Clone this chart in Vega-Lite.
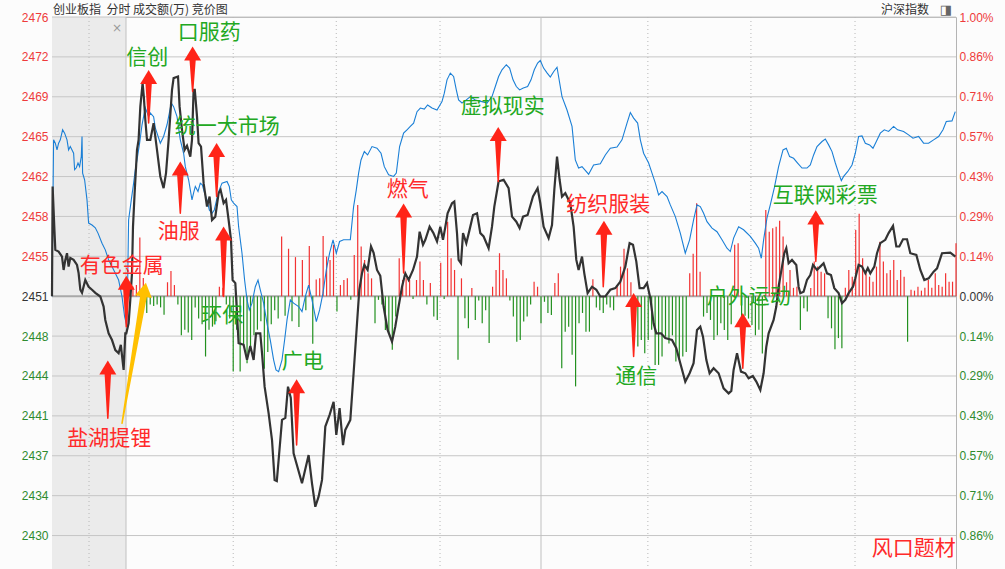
{
"$schema":"https://vega.github.io/schema/vega-lite/v6.json",
"width":904,"height":552,
"autosize":{"type":"none"},
"padding":{"left":52,"top":17,"right":49,"bottom":0},
"background":"#fcfcfc",
"config":{"view":{"stroke":"#b4b4b4","strokeWidth":1}},
"datasets":{
"black":[{"t":-21.4,"v":0},{"t":-21.22,"v":0.393},{"t":-20.7,"v":0.238},{"t":-20.44,"v":0.166},{"t":-19.49,"v":0.16},{"t":-18.51,"v":0.142},{"t":-18.04,"v":0.094},{"t":-17.55,"v":0.13},{"t":-17.06,"v":0.154},{"t":-16.6,"v":0.106},{"t":-16.11,"v":0.137},{"t":-15.15,"v":0.13},{"t":-14.17,"v":0.112},{"t":-13.71,"v":0.083},{"t":-13.21,"v":0.023},{"t":-12.72,"v":0.012},{"t":-11.77,"v":0.058},{"t":-10.81,"v":0.034},{"t":-9.83,"v":0.023},{"t":-8.88,"v":0.012},{"t":-7.43,"v":-0.001},{"t":-6.48,"v":-0.037},{"t":-5.99,"v":-0.085},{"t":-5.03,"v":-0.133},{"t":-4.05,"v":-0.157},{"t":-3.09,"v":-0.193},{"t":-2.14,"v":-0.204},{"t":-1.5,"v":-0.174},{"t":-0.69,"v":-0.264},{"t":-0.2,"v":-0.133},{"t":0.09,"v":-0.133},{"t":0.75,"v":-0.097},{"t":1.24,"v":-0.013},{"t":1.73,"v":0.082},{"t":2.02,"v":0.249},{"t":2.49,"v":0.369},{"t":3.18,"v":0.524},{"t":3.64,"v":0.56},{"t":4.14,"v":0.679},{"t":4.8,"v":0.763},{"t":5.15,"v":0.715},{"t":5.58,"v":0.632},{"t":6.07,"v":0.56},{"t":7.03,"v":0.56},{"t":7.98,"v":0.62},{"t":8.96,"v":0.524},{"t":9.92,"v":0.429},{"t":10.87,"v":0.387},{"t":11.57,"v":0.441},{"t":12.32,"v":0.56},{"t":13.3,"v":0.739},{"t":13.76,"v":0.781},{"t":15.04,"v":0.787},{"t":15.5,"v":0.679},{"t":16.19,"v":0.596},{"t":16.94,"v":0.524},{"t":17.64,"v":0.539},{"t":18.59,"v":0.5},{"t":19.08,"v":0.56},{"t":19.55,"v":0.739},{"t":19.89,"v":0.739},{"t":20.53,"v":0.644},{"t":20.99,"v":0.548},{"t":21.69,"v":0.536},{"t":22.44,"v":0.405},{"t":23.42,"v":0.321},{"t":24.17,"v":0.357},{"t":24.87,"v":0.273},{"t":25.82,"v":0.285},{"t":26.78,"v":0.369},{"t":27.35,"v":0.381},{"t":28.22,"v":0.333},{"t":28.92,"v":0.345},{"t":29.67,"v":0.273},{"t":30.36,"v":0.202},{"t":30.82,"v":0.058},{"t":31.61,"v":0.047},{"t":32.56,"v":-0.168},{"t":34.01,"v":-0.174},{"t":34.99,"v":-0.228},{"t":35.94,"v":-0.178},{"t":36.9,"v":-0.228},{"t":37.59,"v":-0.133},{"t":38.83,"v":-0.133},{"t":39.33,"v":-0.204},{"t":40.08,"v":-0.324},{"t":41.23,"v":-0.419},{"t":42.22,"v":-0.515},{"t":42.97,"v":-0.658},{"t":43.61,"v":-0.662},{"t":44.62,"v":-0.515},{"t":45.11,"v":-0.443},{"t":46.07,"v":-0.436},{"t":46.84,"v":-0.324},{"t":47.65,"v":-0.364},{"t":48.46,"v":-0.563},{"t":50.89,"v":-0.67},{"t":52.8,"v":-0.569},{"t":53.78,"v":-0.67},{"t":54.74,"v":-0.754},{"t":55.69,"v":-0.718},{"t":56.68,"v":-0.658},{"t":57.63,"v":-0.467},{"t":58.87,"v":-0.425},{"t":60.03,"v":-0.378},{"t":60.81,"v":-0.497},{"t":61.76,"v":-0.401},{"t":62.75,"v":-0.533},{"t":63.41,"v":-0.479},{"t":64.86,"v":-0.443},{"t":65.81,"v":-0.276},{"t":66.8,"v":-0.097},{"t":67.46,"v":0.023},{"t":68.24,"v":0.082},{"t":68.91,"v":0.112},{"t":69.86,"v":0.094},{"t":70.84,"v":0.178},{"t":71.6,"v":0.155},{"t":72.58,"v":0.094},{"t":73.53,"v":0.073},{"t":74.49,"v":-0.037},{"t":75.64,"v":-0.121},{"t":76.92,"v":-0.163},{"t":77.87,"v":-0.109},{"t":78.82,"v":-0.037},{"t":79.81,"v":0.034},{"t":80.76,"v":0.082},{"t":81.72,"v":0.058},{"t":82.99,"v":0.094},{"t":84.15,"v":0.142},{"t":84.9,"v":0.231},{"t":85.88,"v":0.184},{"t":86.55,"v":0.202},{"t":87.79,"v":0.249},{"t":88.86,"v":0.227},{"t":89.93,"v":0.196},{"t":90.88,"v":0.249},{"t":91.66,"v":0.202},{"t":92.33,"v":0.248},{"t":92.99,"v":0.297},{"t":94.27,"v":0.333},{"t":94.93,"v":0.339},{"t":95.71,"v":0.226},{"t":96.17,"v":0.13},{"t":96.87,"v":0.118},{"t":97.45,"v":0.226},{"t":98.4,"v":0.19},{"t":99.27,"v":0.234},{"t":100.34,"v":0.291},{"t":101.5,"v":0.297},{"t":102.45,"v":0.226},{"t":103.4,"v":0.214},{"t":104.85,"v":0.172},{"t":105.83,"v":0.249},{"t":106.5,"v":0.321},{"t":107.74,"v":0.411},{"t":109.19,"v":0.417},{"t":110.63,"v":0.387},{"t":111.62,"v":0.285},{"t":112.86,"v":0.267},{"t":113.81,"v":0.244},{"t":114.8,"v":0.285},{"t":116.13,"v":0.291},{"t":117.69,"v":0.357},{"t":119.02,"v":0.387},{"t":119.8,"v":0.333},{"t":120.75,"v":0.249},{"t":122.2,"v":0.208},{"t":123.18,"v":0.255},{"t":123.85,"v":0.381},{"t":124.63,"v":0.5},{"t":125.38,"v":0.417},{"t":126.07,"v":0.357},{"t":127.03,"v":0.369},{"t":128.47,"v":0.333},{"t":129.43,"v":0.249},{"t":130.21,"v":0.13},{"t":130.87,"v":0.094},{"t":131.86,"v":0.142},{"t":132.52,"v":0.082},{"t":133.48,"v":0.011},{"t":134.75,"v":0.034},{"t":136.0,"v":0.023},{"t":137.15,"v":-0.001},{"t":138.6,"v":-0.001},{"t":140.04,"v":0.023},{"t":141.49,"v":0.029},{"t":142.93,"v":0.052},{"t":144.38,"v":0.106},{"t":145.62,"v":0.19},{"t":146.6,"v":0.184},{"t":147.56,"v":0.124},{"t":148.51,"v":0.029},{"t":149.67,"v":0.029},{"t":150.65,"v":0.047},{"t":151.61,"v":-0.007},{"t":152.56,"v":-0.097},{"t":153.34,"v":-0.133},{"t":154.7,"v":-0.133},{"t":155.94,"v":-0.15},{"t":157.88,"v":-0.157},{"t":159.12,"v":-0.186},{"t":160.28,"v":-0.24},{"t":161.72,"v":-0.306},{"t":162.97,"v":-0.276},{"t":164.12,"v":-0.24},{"t":165.11,"v":-0.121},{"t":166.06,"v":-0.109},{"t":166.84,"v":-0.145},{"t":167.8,"v":-0.228},{"t":168.75,"v":-0.276},{"t":169.91,"v":-0.258},{"t":171.36,"v":-0.276},{"t":172.8,"v":-0.33},{"t":174.25,"v":-0.348},{"t":175.03,"v":-0.339},{"t":175.69,"v":-0.264},{"t":176.68,"v":-0.204},{"t":177.83,"v":-0.27},{"t":179.08,"v":-0.276},{"t":180.03,"v":-0.294},{"t":181.25,"v":-0.286},{"t":182.26,"v":-0.306},{"t":183.42,"v":-0.336},{"t":184.37,"v":-0.276},{"t":185.15,"v":-0.181},{"t":185.82,"v":-0.133},{"t":187.26,"v":-0.085},{"t":188.04,"v":-0.037},{"t":188.7,"v":0.034},{"t":189.69,"v":0.106},{"t":190.35,"v":0.154},{"t":190.93,"v":0.172},{"t":191.6,"v":0.118},{"t":192.58,"v":0.13},{"t":193.82,"v":0.112},{"t":194.49,"v":0.034},{"t":194.98,"v":0.011},{"t":195.93,"v":0.016},{"t":196.91,"v":0.058},{"t":197.87,"v":0.076},{"t":198.65,"v":0.112},{"t":199.8,"v":0.094},{"t":200.76,"v":0.106},{"t":201.71,"v":0.118},{"t":202.7,"v":0.082},{"t":203.85,"v":0.076},{"t":204.81,"v":0.029},{"t":206.05,"v":0.011},{"t":207.04,"v":-0.025},{"t":207.99,"v":-0.013},{"t":208.95,"v":0.011},{"t":210.22,"v":0.034},{"t":210.88,"v":0.064},{"t":211.84,"v":0.112},{"t":212.82,"v":0.106},{"t":213.78,"v":0.082},{"t":214.5,"v":0.101},{"t":215.22,"v":0.082},{"t":216.38,"v":0.106},{"t":217.16,"v":0.154},{"t":218.11,"v":0.19},{"t":219.56,"v":0.202},{"t":220.51,"v":0.226},{"t":221.79,"v":0.252},{"t":222.74,"v":0.178},{"t":223.61,"v":0.178},{"t":224.68,"v":0.204},{"t":225.84,"v":0.204},{"t":226.79,"v":0.154},{"t":228.53,"v":0.148},{"t":229.69,"v":0.094},{"t":230.84,"v":0.058},{"t":232.09,"v":0.064},{"t":233.53,"v":0.088},{"t":234.52,"v":0.1},{"t":235.96,"v":0.154},{"t":238.36,"v":0.156},{"t":239.81,"v":0.142}],
"blue":[{"t":-21.4,"v":0},{"t":-20.94,"v":0.56},{"t":-20.44,"v":0.548},{"t":-19.95,"v":0.524},{"t":-19.49,"v":0.548},{"t":-19.0,"v":0.56},{"t":-18.33,"v":0.596},{"t":-17.75,"v":0.584},{"t":-17.06,"v":0.56},{"t":-16.6,"v":0.524},{"t":-16.11,"v":0.536},{"t":-15.61,"v":0.524},{"t":-15.15,"v":0.512},{"t":-14.86,"v":0.453},{"t":-14.37,"v":0.46},{"t":-13.88,"v":0.477},{"t":-13.42,"v":0.464},{"t":-12.93,"v":0.5},{"t":-12.72,"v":0.572},{"t":-12.55,"v":0.441},{"t":-11.97,"v":0.417},{"t":-11.28,"v":0.345},{"t":-10.81,"v":0.262},{"t":-9.83,"v":0.255},{"t":-8.88,"v":0.245},{"t":-8.1,"v":0.226},{"t":-6.94,"v":0.19},{"t":-5.99,"v":0.166},{"t":-5.03,"v":0.13},{"t":-4.05,"v":0.106},{"t":-3.09,"v":0.082},{"t":-2.14,"v":0.058},{"t":-1.16,"v":-0.001},{"t":-0.4,"v":-0.073},{"t":0.29,"v":-0.109},{"t":0.75,"v":0.273},{"t":1.53,"v":0.345},{"t":2.2,"v":0.405},{"t":2.69,"v":0.453},{"t":3.18,"v":0.488},{"t":3.93,"v":0.548},{"t":4.63,"v":0.614},{"t":5.58,"v":0.675},{"t":6.54,"v":0.643},{"t":7.03,"v":0.656},{"t":7.98,"v":0.643},{"t":8.47,"v":0.603},{"t":9.92,"v":0.548},{"t":10.87,"v":0.572},{"t":11.86,"v":0.614},{"t":13.1,"v":0.692},{"t":13.76,"v":0.679},{"t":14.75,"v":0.643},{"t":15.7,"v":0.56},{"t":16.66,"v":0.512},{"t":17.15,"v":0.464},{"t":18.1,"v":0.417},{"t":19.08,"v":0.345},{"t":19.55,"v":0.37},{"t":20.04,"v":0.393},{"t":20.82,"v":0.375},{"t":21.48,"v":0.405},{"t":22.06,"v":0.399},{"t":22.73,"v":0.369},{"t":23.42,"v":0.345},{"t":24.09,"v":0.309},{"t":24.87,"v":0.297},{"t":25.53,"v":0.309},{"t":26.31,"v":0.351},{"t":26.98,"v":0.381},{"t":27.76,"v":0.405},{"t":29.21,"v":0.411},{"t":29.87,"v":0.393},{"t":30.45,"v":0.345},{"t":31.11,"v":0.333},{"t":32.1,"v":0.321},{"t":32.56,"v":0.249},{"t":33.54,"v":0.154},{"t":34.29,"v":0.058},{"t":34.99,"v":-0.013},{"t":35.65,"v":-0.049},{"t":36.43,"v":-0.025},{"t":37.39,"v":0.034},{"t":38.17,"v":0.058},{"t":38.83,"v":0.023},{"t":39.79,"v":-0.025},{"t":40.77,"v":-0.097},{"t":41.72,"v":-0.157},{"t":42.68,"v":-0.228},{"t":43.37,"v":-0.264},{"t":44.13,"v":-0.27},{"t":45.11,"v":-0.228},{"t":45.86,"v":-0.157},{"t":46.56,"v":-0.085},{"t":47.51,"v":-0.013},{"t":48.46,"v":-0.025},{"t":49.91,"v":-0.037},{"t":50.89,"v":-0.055},{"t":51.85,"v":-0.001},{"t":52.8,"v":0.04},{"t":53.78,"v":-0.013},{"t":55.03,"v":-0.091},{"t":55.98,"v":-0.049},{"t":56.96,"v":0.011},{"t":57.92,"v":0.094},{"t":58.87,"v":0.154},{"t":59.86,"v":0.202},{"t":60.81,"v":0.154},{"t":61.76,"v":0.196},{"t":62.92,"v":0.202},{"t":64.86,"v":0.202},{"t":65.81,"v":0.321},{"t":66.59,"v":0.381},{"t":67.26,"v":0.441},{"t":67.95,"v":0.488},{"t":68.91,"v":0.518},{"t":69.86,"v":0.506},{"t":71.13,"v":0.536},{"t":72.58,"v":0.53},{"t":73.74,"v":0.512},{"t":74.69,"v":0.464},{"t":75.93,"v":0.435},{"t":77.38,"v":0.429},{"t":78.16,"v":0.441},{"t":79.11,"v":0.536},{"t":80.27,"v":0.584},{"t":81.25,"v":0.596},{"t":82.21,"v":0.608},{"t":83.16,"v":0.62},{"t":84.15,"v":0.661},{"t":85.1,"v":0.674},{"t":86.26,"v":0.67},{"t":87.21,"v":0.685},{"t":88.48,"v":0.674},{"t":89.93,"v":0.667},{"t":91.37,"v":0.697},{"t":92.04,"v":0.727},{"t":92.82,"v":0.775},{"t":93.78,"v":0.799},{"t":94.73,"v":0.787},{"t":95.51,"v":0.739},{"t":96.17,"v":0.703},{"t":97.16,"v":0.692},{"t":98.4,"v":0.703},{"t":99.56,"v":0.715},{"t":101.0,"v":0.703},{"t":102.94,"v":0.697},{"t":104.39,"v":0.692},{"t":105.83,"v":0.715},{"t":106.79,"v":0.751},{"t":107.74,"v":0.787},{"t":108.72,"v":0.811},{"t":109.97,"v":0.829},{"t":110.92,"v":0.817},{"t":111.91,"v":0.775},{"t":112.86,"v":0.751},{"t":113.81,"v":0.739},{"t":114.88,"v":0.746},{"t":116.13,"v":0.751},{"t":117.11,"v":0.775},{"t":118.06,"v":0.811},{"t":119.02,"v":0.835},{"t":119.8,"v":0.844},{"t":120.75,"v":0.817},{"t":121.74,"v":0.8},{"t":122.69,"v":0.785},{"t":123.64,"v":0.804},{"t":124.63,"v":0.82},{"t":126.07,"v":0.715},{"t":127.52,"v":0.667},{"t":128.97,"v":0.608},{"t":129.92,"v":0.488},{"t":130.87,"v":0.459},{"t":131.86,"v":0.464},{"t":133.77,"v":0.437},{"t":135.21,"v":0.47},{"t":137.15,"v":0.474},{"t":138.6,"v":0.506},{"t":140.04,"v":0.53},{"t":141.98,"v":0.534},{"t":143.42,"v":0.56},{"t":144.87,"v":0.62},{"t":145.83,"v":0.658},{"t":146.78,"v":0.638},{"t":147.94,"v":0.62},{"t":148.72,"v":0.56},{"t":149.67,"v":0.512},{"t":151.12,"v":0.477},{"t":152.1,"v":0.441},{"t":153.06,"v":0.405},{"t":154.01,"v":0.363},{"t":154.99,"v":0.375},{"t":156.44,"v":0.357},{"t":157.39,"v":0.327},{"t":158.84,"v":0.285},{"t":160.28,"v":0.226},{"t":161.72,"v":0.154},{"t":162.97,"v":0.202},{"t":164.12,"v":0.273},{"t":165.11,"v":0.327},{"t":166.06,"v":0.321},{"t":167.02,"v":0.297},{"t":168.0,"v":0.267},{"t":169.45,"v":0.244},{"t":170.89,"v":0.231},{"t":172.34,"v":0.202},{"t":173.78,"v":0.172},{"t":174.74,"v":0.16},{"t":175.69,"v":0.208},{"t":177.14,"v":0.249},{"t":178.58,"v":0.238},{"t":180.52,"v":0.214},{"t":181.96,"v":0.19},{"t":182.92,"v":0.172},{"t":183.7,"v":0.136},{"t":184.37,"v":0.202},{"t":185.35,"v":0.281},{"t":186.3,"v":0.327},{"t":187.46,"v":0.388},{"t":188.7,"v":0.464},{"t":189.98,"v":0.524},{"t":190.93,"v":0.53},{"t":191.89,"v":0.5},{"t":193.04,"v":0.494},{"t":194.2,"v":0.477},{"t":195.47,"v":0.459},{"t":196.91,"v":0.459},{"t":197.87,"v":0.47},{"t":198.83,"v":0.506},{"t":199.81,"v":0.536},{"t":201.26,"v":0.554},{"t":202.21,"v":0.563},{"t":203.17,"v":0.542},{"t":204.15,"v":0.518},{"t":205.11,"v":0.477},{"t":206.06,"v":0.441},{"t":206.84,"v":0.414},{"t":207.51,"v":0.429},{"t":208.66,"v":0.446},{"t":209.93,"v":0.47},{"t":210.88,"v":0.512},{"t":211.84,"v":0.572},{"t":212.82,"v":0.574},{"t":213.78,"v":0.548},{"t":215.02,"v":0.542},{"t":216.0,"v":0.53},{"t":216.96,"v":0.554},{"t":218.11,"v":0.584},{"t":219.27,"v":0.596},{"t":220.51,"v":0.59},{"t":221.96,"v":0.608},{"t":223.11,"v":0.596},{"t":224.85,"v":0.59},{"t":226.29,"v":0.578},{"t":227.56,"v":0.566},{"t":229.18,"v":0.572},{"t":230.63,"v":0.548},{"t":232.07,"v":0.548},{"t":233.52,"v":0.56},{"t":234.97,"v":0.572},{"t":236.24,"v":0.596},{"t":237.19,"v":0.626},{"t":238.84,"v":0.628},{"t":239.79,"v":0.661}],
"bars":[{"t":1,"v":0.03},{"t":2,"v":0.035},{"t":3,"v":0.04},{"t":4,"v":0.21},{"t":5,"v":0.065},{"t":6,"v":-0.06},{"t":7,"v":-0.03},{"t":8,"v":-0.035},{"t":9,"v":-0.03},{"t":10,"v":-0.04},{"t":11,"v":-0.066},{"t":12,"v":0.05},{"t":13,"v":0.09},{"t":14,"v":0.04},{"t":15,"v":-0.03},{"t":16,"v":-0.14},{"t":17,"v":-0.12},{"t":18,"v":-0.13},{"t":19,"v":-0.157},{"t":20,"v":-0.04},{"t":21,"v":-0.08},{"t":22,"v":-0.1},{"t":23,"v":-0.216},{"t":24,"v":-0.12},{"t":25,"v":-0.109},{"t":26,"v":-0.09},{"t":27,"v":0.034},{"t":28,"v":0.03},{"t":29,"v":-0.03},{"t":30,"v":-0.08},{"t":31,"v":-0.27},{"t":32,"v":-0.12},{"t":33,"v":-0.27},{"t":34,"v":-0.18},{"t":35,"v":-0.24},{"t":36,"v":-0.18},{"t":37,"v":-0.14},{"t":38,"v":-0.12},{"t":39,"v":-0.09},{"t":40,"v":-0.26},{"t":41,"v":-0.2},{"t":42,"v":-0.1},{"t":43,"v":-0.05},{"t":44,"v":-0.08},{"t":45,"v":0.214},{"t":46,"v":-0.07},{"t":47,"v":0.17},{"t":48,"v":-0.09},{"t":49,"v":0.14},{"t":50,"v":-0.11},{"t":51,"v":0.13},{"t":52,"v":-0.05},{"t":53,"v":0.18},{"t":54,"v":-0.17},{"t":55,"v":0.06},{"t":56,"v":0.064},{"t":57,"v":0.216},{"t":58,"v":0.142},{"t":59,"v":0.13},{"t":60,"v":0.184},{"t":61,"v":-0.055},{"t":62,"v":0.04},{"t":63,"v":0.058},{"t":64,"v":0.064},{"t":65,"v":-0.013},{"t":66,"v":0.148},{"t":67,"v":0.327},{"t":68,"v":0.178},{"t":69,"v":0.13},{"t":70,"v":0.082},{"t":71,"v":0.064},{"t":72,"v":-0.097},{"t":73,"v":-0.013},{"t":74,"v":-0.03},{"t":75,"v":-0.121},{"t":76,"v":-0.133},{"t":77,"v":-0.192},{"t":78,"v":-0.073},{"t":79,"v":0.136},{"t":80,"v":0.058},{"t":81,"v":0.064},{"t":82,"v":0.058},{"t":83,"v":-0.01},{"t":84,"v":0.058},{"t":85,"v":0.124},{"t":86,"v":0.058},{"t":87,"v":-0.03},{"t":88,"v":0.047},{"t":89,"v":-0.073},{"t":90,"v":-0.085},{"t":91,"v":0.12},{"t":92,"v":-0.01},{"t":93,"v":0.267},{"t":94,"v":0.136},{"t":95,"v":0.094},{"t":96,"v":-0.228},{"t":97,"v":0.064},{"t":98,"v":-0.079},{"t":99,"v":-0.115},{"t":100,"v":0.029},{"t":101,"v":-0.085},{"t":102,"v":-0.015},{"t":103,"v":-0.097},{"t":104,"v":-0.05},{"t":105,"v":-0.168},{"t":106,"v":0.034},{"t":107,"v":0.094},{"t":108,"v":0.154},{"t":109,"v":0.094},{"t":110,"v":0.064},{"t":111,"v":-0.015},{"t":112,"v":-0.073},{"t":113,"v":-0.163},{"t":114,"v":-0.157},{"t":115,"v":-0.091},{"t":116,"v":-0.073},{"t":117,"v":-0.03},{"t":118,"v":0.052},{"t":119,"v":0.034},{"t":120,"v":-0.097},{"t":121,"v":-0.02},{"t":122,"v":-0.06},{"t":123,"v":-0.067},{"t":124,"v":0.047},{"t":125,"v":0.082},{"t":126,"v":-0.258},{"t":127,"v":-0.127},{"t":128,"v":-0.109},{"t":129,"v":-0.21},{"t":130,"v":-0.323},{"t":131,"v":-0.097},{"t":132,"v":-0.06},{"t":133,"v":-0.127},{"t":134,"v":-0.127},{"t":135,"v":0.061},{"t":136,"v":-0.04},{"t":137,"v":-0.05},{"t":138,"v":-0.06},{"t":139,"v":-0.03},{"t":140,"v":-0.04},{"t":141,"v":-0.05},{"t":142,"v":0.04},{"t":143,"v":0.106},{"t":144,"v":0.17},{"t":145,"v":0.1},{"t":146,"v":0.05},{"t":147,"v":-0.09},{"t":148,"v":-0.18},{"t":149,"v":-0.157},{"t":150,"v":-0.204},{"t":151,"v":-0.157},{"t":152,"v":-0.12},{"t":153,"v":-0.246},{"t":154,"v":-0.246},{"t":155,"v":-0.216},{"t":156,"v":-0.145},{"t":157,"v":-0.169},{"t":158,"v":-0.14},{"t":159,"v":-0.234},{"t":160,"v":-0.228},{"t":161,"v":-0.216},{"t":162,"v":-0.2},{"t":163,"v":0.082},{"t":164,"v":0.152},{"t":165,"v":0.333},{"t":166,"v":0.088},{"t":167,"v":-0.073},{"t":168,"v":-0.06},{"t":169,"v":-0.085},{"t":170,"v":-0.157},{"t":171,"v":-0.14},{"t":172,"v":-0.097},{"t":173,"v":-0.121},{"t":174,"v":-0.157},{"t":175,"v":-0.1},{"t":176,"v":0.184},{"t":177,"v":0.19},{"t":178,"v":-0.079},{"t":179,"v":-0.07},{"t":180,"v":-0.08},{"t":181,"v":-0.103},{"t":182,"v":-0.14},{"t":183,"v":-0.12},{"t":184,"v":-0.205},{"t":185,"v":0.309},{"t":186,"v":0.231},{"t":187,"v":0.243},{"t":188,"v":0.249},{"t":189,"v":0.27},{"t":190,"v":0.214},{"t":191,"v":0.05},{"t":192,"v":0.094},{"t":193,"v":0.03},{"t":194,"v":0.034},{"t":195,"v":-0.121},{"t":196,"v":-0.043},{"t":197,"v":-0.055},{"t":198,"v":0.029},{"t":199,"v":0.124},{"t":200,"v":0.106},{"t":201,"v":0.088},{"t":202,"v":0.082},{"t":203,"v":-0.079},{"t":204,"v":-0.115},{"t":205,"v":-0.19},{"t":206,"v":-0.15},{"t":207,"v":-0.186},{"t":208,"v":0.03},{"t":209,"v":0.094},{"t":210,"v":0.07},{"t":211,"v":0.237},{"t":212,"v":0.295},{"t":213,"v":0.136},{"t":214,"v":0.082},{"t":215,"v":0.07},{"t":216,"v":0.052},{"t":217,"v":0.106},{"t":218,"v":0.195},{"t":219,"v":0.124},{"t":220,"v":0.082},{"t":221,"v":0.094},{"t":222,"v":0.13},{"t":223,"v":0.058},{"t":224,"v":0.094},{"t":225,"v":0.07},{"t":226,"v":-0.163},{"t":227,"v":0.023},{"t":228,"v":0.02},{"t":229,"v":0.034},{"t":230,"v":0.02},{"t":231,"v":0.03},{"t":232,"v":0.058},{"t":233,"v":0.03},{"t":234,"v":0.082},{"t":235,"v":0.04},{"t":236,"v":0.034},{"t":237,"v":0.082},{"t":238,"v":0.052},{"t":239,"v":0.052},{"t":240,"v":0.19}],
"arrows":[
{"id":"a1","kind":"red","end":0,"t":6.54,"v":0.62},{"id":"a1","kind":"red","end":1,"t":6.54,"v":0.78},
{"id":"a2","kind":"red","end":0,"t":19.26,"v":0.733},{"id":"a2","kind":"red","end":1,"t":19.26,"v":0.864},
{"id":"a3","kind":"red","end":0,"t":15.7,"v":0.297},{"id":"a3","kind":"red","end":1,"t":15.7,"v":0.452},
{"id":"a4","kind":"red","end":0,"t":26.2,"v":0.357},{"id":"a4","kind":"red","end":1,"t":26.2,"v":0.518},
{"id":"a5","kind":"red","end":0,"t":28.22,"v":-0.001},{"id":"a5","kind":"red","end":1,"t":28.22,"v":0.219},
{"id":"a6","kind":"red","end":0,"t":0.09,"v":-0.109},{"id":"a6","kind":"red","end":1,"t":0.09,"v":0.043},
{"id":"a7","kind":"red","end":0,"t":-5.26,"v":-0.437},{"id":"a7","kind":"red","end":1,"t":-5.26,"v":-0.261},
{"id":"a8","kind":"yellow","end":0,"t":-1.16,"v":-0.455},{"id":"a8","kind":"yellow","end":1,"t":5.32,"v":0.018},
{"id":"a9","kind":"red","end":0,"t":49.33,"v":-0.533},{"id":"a9","kind":"red","end":1,"t":49.33,"v":-0.328},
{"id":"a10","kind":"red","end":0,"t":80.27,"v":0.083},{"id":"a10","kind":"red","end":1,"t":80.27,"v":0.302},
{"id":"a11","kind":"red","end":0,"t":107.63,"v":0.411},{"id":"a11","kind":"red","end":1,"t":107.63,"v":0.576},
{"id":"a12","kind":"red","end":0,"t":138.0,"v":0.034},{"id":"a12","kind":"red","end":1,"t":138.2,"v":0.24},
{"id":"a13","kind":"red","end":0,"t":146.78,"v":-0.216},{"id":"a13","kind":"red","end":1,"t":146.78,"v":-0.019},
{"id":"a14","kind":"red","end":0,"t":178.35,"v":-0.258},{"id":"a14","kind":"red","end":1,"t":178.35,"v":-0.091},
{"id":"a15","kind":"red","end":0,"t":199.46,"v":0.124},{"id":"a15","kind":"red","end":1,"t":199.46,"v":0.277}],
"labels":[
{"label":"信创","kind":"green","t":6.16,"v":0.852},
{"label":"口服药","kind":"green","t":24.09,"v":0.943},
{"label":"统一大市场","kind":"green","t":29.27,"v":0.605},
{"label":"油服","kind":"red","t":15.27,"v":0.229},
{"label":"有色金属","kind":"red","t":-1.21,"v":0.109},
{"label":"环保","kind":"green","t":27.85,"v":-0.071},
{"label":"盐湖提锂","kind":"red","t":-4.83,"v":-0.511},
{"label":"广电","kind":"green","t":51.12,"v":-0.235},
{"label":"燃气","kind":"red","t":81.49,"v":0.381},
{"label":"虚拟现实","kind":"green","t":108.95,"v":0.678},
{"label":"纺织服装","kind":"red","t":139.46,"v":0.327},
{"label":"通信","kind":"green","t":147.56,"v":-0.289},
{"label":"户外运动","kind":"green","t":180.09,"v":-0.004},
{"label":"互联网彩票","kind":"green","t":202.21,"v":0.359},
{"label":"风口题材","kind":"red","t":227.8,"v":-0.905}],
"hgrid":[{"v":1.0},{"v":0.857143},{"v":0.714286},{"v":0.571429},{"v":0.428571},{"v":0.285714},{"v":0.142857},{"v":-0.142857},{"v":-0.285714},{"v":-0.428571},{"v":-0.571429},{"v":-0.714286},{"v":-0.857143}],
"vsolid":[{"t":0},{"t":120}],
"vdot":[{"t":-10.7},{"t":31},{"t":60.8},{"t":90.8},{"t":150.9},{"t":180.7},{"t":210.8}]
},
"resolve":{"axis":{"y":"independent"}},
"layer":[
{"data":{"values":[{"start":-21.4,"end":0}]},"mark":{"type":"rect","color":"#ebebeb"},
 "encoding":{"x":{"field":"start","type":"quantitative","scale":{"domain":[-21.4,240],"nice":false,"zero":false},"axis":null},"x2":{"field":"end"}}},
{"data":{"name":"hgrid"},"mark":{"type":"rule","color":"#c6c6c6","strokeWidth":1},
 "encoding":{"y":{"field":"v","type":"quantitative","scale":{"domain":[-0.977,1.0],"nice":false,"zero":false},
   "axis":{"orient":"left","title":null,"grid":false,"ticks":false,"domain":false,"labelPadding":4,"labelFont":"Liberation Sans","labelFontSize":12,"labelFlush":false,"labelOverlap":false,
     "values":[1.0,0.857143,0.714286,0.571429,0.428571,0.285714,0.142857,0,-0.142857,-0.285714,-0.428571,-0.571429,-0.714286,-0.857143],
     "labelExpr":"format(2451.3*(1+datum.value/100),'.0f')",
     "labelColor":{"condition":[{"test":"datum.value > 0.001","value":"#ee3b3b"},{"test":"datum.value < -0.001","value":"#2e8b2e"}],"value":"#333333"}}}}},
{"data":{"values":[{"v":0}]},"mark":{"type":"rule","color":"#a8a8a8","strokeWidth":2},
 "encoding":{"y":{"field":"v","type":"quantitative","scale":{"domain":[-0.977,1.0],"nice":false,"zero":false},
   "axis":{"orient":"right","title":null,"grid":false,"ticks":false,"domain":false,"labelPadding":3,"labelFont":"Liberation Sans","labelFontSize":12,"labelFlush":false,"labelOverlap":false,
     "values":[1.0,0.857143,0.714286,0.571429,0.428571,0.285714,0.142857,0,-0.142857,-0.285714,-0.428571,-0.571429,-0.714286,-0.857143],
     "labelExpr":"format(abs(datum.value),'.2f') + '%'",
     "labelColor":{"condition":[{"test":"datum.value > 0.001","value":"#ee3b3b"},{"test":"datum.value < -0.001","value":"#2e8b2e"}],"value":"#333333"}}}}},
{"data":{"name":"vsolid"},"mark":{"type":"rule","color":"#c0c0c0","strokeWidth":1},
 "encoding":{"x":{"field":"t","type":"quantitative","scale":{"domain":[-21.4,240],"nice":false,"zero":false},"axis":null}}},
{"data":{"name":"vdot"},"mark":{"type":"rule","color":"#b8b8b8","strokeWidth":1,"strokeDash":[1,3]},
 "encoding":{"x":{"field":"t","type":"quantitative","scale":{"domain":[-21.4,240],"nice":false,"zero":false},"axis":null}}},
{"data":{"name":"bars"},"mark":{"type":"rule","strokeWidth":1.2},
 "encoding":{"x":{"field":"t","type":"quantitative","scale":{"domain":[-21.4,240],"nice":false,"zero":false},"axis":null},
   "y":{"field":"v","type":"quantitative","scale":{"domain":[-0.977,1.0],"nice":false,"zero":false},"axis":null},
   "y2":{"datum":0},
   "color":{"condition":{"test":"datum.v > 0","value":"#f23232"},"value":"#22901f"}}},
{"data":{"name":"blue"},"mark":{"type":"line","color":"#1a7fd6","strokeWidth":1.1},
 "encoding":{"x":{"field":"t","type":"quantitative","scale":{"domain":[-21.4,240],"nice":false,"zero":false},"axis":null},
   "y":{"field":"v","type":"quantitative","scale":{"domain":[-0.977,1.0],"nice":false,"zero":false},"axis":null}}},
{"data":{"name":"black"},"mark":{"type":"line","color":"#333333","strokeWidth":2.2},
 "encoding":{"x":{"field":"t","type":"quantitative","scale":{"domain":[-21.4,240],"nice":false,"zero":false},"axis":null},
   "y":{"field":"v","type":"quantitative","scale":{"domain":[-0.977,1.0],"nice":false,"zero":false},"axis":null}}},
{"data":{"name":"arrows"},"mark":{"type":"trail"},
 "encoding":{"x":{"field":"t","type":"quantitative","scale":{"domain":[-21.4,240],"nice":false,"zero":false},"axis":null},
   "y":{"field":"v","type":"quantitative","scale":{"domain":[-0.977,1.0],"nice":false,"zero":false},"axis":null},
   "detail":{"field":"id"},"order":{"field":"end","type":"quantitative"},
   "size":{"field":"end","type":"quantitative","scale":{"domain":[0,1],"range":[1.5,7]},"legend":null},
   "color":{"condition":{"test":"datum.kind == 'yellow'","value":"#ffc000"},"value":"#ff2418"}}},
{"data":{"name":"arrows"},"transform":[{"filter":"datum.end == 1 && datum.kind == 'red'"}],
 "mark":{"type":"point","shape":"M0,-1L1,0.65L-1,0.65Z","filled":true,"size":289,"color":"#ff2418","opacity":1},
 "encoding":{"x":{"field":"t","type":"quantitative","scale":{"domain":[-21.4,240],"nice":false,"zero":false},"axis":null},
   "y":{"field":"v","type":"quantitative","scale":{"domain":[-0.977,1.0],"nice":false,"zero":false},"axis":null}}},
{"data":{"name":"arrows"},"transform":[{"filter":"datum.end == 1 && datum.kind == 'yellow'"}],
 "mark":{"type":"point","shape":"M0,-1L1,0.65L-1,0.65Z","filled":true,"size":289,"angle":10,"color":"#ffc000","opacity":1},
 "encoding":{"x":{"field":"t","type":"quantitative","scale":{"domain":[-21.4,240],"nice":false,"zero":false},"axis":null},
   "y":{"field":"v","type":"quantitative","scale":{"domain":[-0.977,1.0],"nice":false,"zero":false},"axis":null}}},
{"data":{"name":"labels"},"mark":{"type":"text","font":"Noto Sans CJK SC","fontSize":21,"align":"center","baseline":"middle"},
 "encoding":{"x":{"field":"t","type":"quantitative","scale":{"domain":[-21.4,240],"nice":false,"zero":false},"axis":null},
   "y":{"field":"v","type":"quantitative","scale":{"domain":[-0.977,1.0],"nice":false,"zero":false},"axis":null},
   "text":{"field":"label"},
   "color":{"condition":{"test":"datum.kind == 'green'","value":"#22a822"},"value":"#ff2a2a"}}},
{"data":{"values":[{"txt":"创业板指\u00a0\u00a0分时\u00a0成交额(万)\u00a0竞价图"}]},
 "mark":{"type":"text","font":"Noto Sans CJK SC","fontSize":12,"align":"left","baseline":"middle","dx":1,"dy":-7.5,"color":"#333333"},
 "encoding":{"text":{"field":"txt"},"x":{"datum":-21.4,"type":"quantitative","scale":{"domain":[-21.4,240],"nice":false,"zero":false},"axis":null},
   "y":{"datum":1.0,"type":"quantitative","scale":{"domain":[-0.977,1.0],"nice":false,"zero":false},"axis":null}}},
{"data":{"values":[{"txt":"沪深指数"}]},
 "mark":{"type":"text","font":"Noto Sans CJK SC","fontSize":12,"align":"right","baseline":"middle","dx":-27,"dy":-7.5,"color":"#333333"},
 "encoding":{"text":{"field":"txt"},"x":{"datum":240,"type":"quantitative","scale":{"domain":[-21.4,240],"nice":false,"zero":false},"axis":null},
   "y":{"datum":1.0,"type":"quantitative","scale":{"domain":[-0.977,1.0],"nice":false,"zero":false},"axis":null}}},
{"data":{"values":[{"txt":"◨"}]},
 "mark":{"type":"text","font":"DejaVu Sans","fontSize":13,"align":"right","baseline":"middle","dx":-4,"dy":-7.5,"color":"#666666"},
 "encoding":{"text":{"field":"txt"},"x":{"datum":240,"type":"quantitative","scale":{"domain":[-21.4,240],"nice":false,"zero":false},"axis":null},
   "y":{"datum":1.0,"type":"quantitative","scale":{"domain":[-0.977,1.0],"nice":false,"zero":false},"axis":null}}},
{"data":{"values":[{"txt":"×"}]},
 "mark":{"type":"text","font":"DejaVu Sans","fontSize":12,"align":"center","baseline":"middle","dx":-9,"dy":11,"color":"#9a9a9a"},
 "encoding":{"text":{"field":"txt"},"x":{"datum":0,"type":"quantitative","scale":{"domain":[-21.4,240],"nice":false,"zero":false},"axis":null},
   "y":{"datum":1.0,"type":"quantitative","scale":{"domain":[-0.977,1.0],"nice":false,"zero":false},"axis":null}}}
]
}
